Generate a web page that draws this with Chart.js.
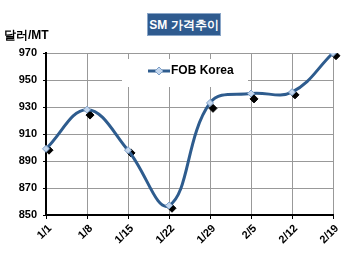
<!DOCTYPE html>
<html>
<head>
<meta charset="utf-8">
<script src="https://cdn.jsdelivr.net/npm/chart.js@4"></script>
<style>
  html, body { margin: 0; padding: 0; background: #fff; }
  #wrap { position: relative; width: 350px; height: 259px; }
  #title {
    position: absolute; left: 147px; top: 13px; width: 74px; height: 23px;
    background: #2f5b8f; color: #fff; font: bold 12px "Liberation Sans", Arial, sans-serif;
    line-height: 23px; text-align: center; box-sizing: border-box; border: 1px solid #8aa6c8;
  }
  #unit {
    position: absolute; left: 4px; top: 27px;
    font: bold 12px "Liberation Sans", Arial, sans-serif; color: #000;
  }
</style>
</head>
<body>
<div id="wrap">
  <canvas id="chart" width="350" height="259"></canvas>
  <div id="title">SM 가격추이</div>
  <div id="unit">달러/MT</div>
</div>
<script>
const labels = ['1/1', '1/8', '1/15', '1/22', '1/29', '2/5', '2/12', '2/19'];
const fobKorea = [899, 928, 898, 857, 933, 940, 941, 970];
const markerPoints = [898, 924, 896, 855, 929, 936, 939, 968];
const yTicks = [850, 870, 890, 910, 930, 950, 970];

const tickFont = { family: '"Liberation Sans", Arial, sans-serif', size: 11, weight: 'bold' };

// black marker shadows sit a few px right of the line markers
const shadowShift = {
  id: 'shadowShift',
  beforeDatasetDraw(chart, args) {
    if (args.index === 1) { chart.ctx.save(); chart.ctx.translate(3, 0); }
  },
  afterDatasetDraw(chart, args) {
    if (args.index === 1) chart.ctx.restore();
  }
};

// legend box drawn inside the plot area
const innerLegend = {
  id: 'innerLegend',
  beforeDatasetsDraw(chart) {
    const ctx = chart.ctx;
    const ds = chart.data.datasets[0];
    ctx.save();
    ctx.fillStyle = '#fff';
    ctx.fillRect(122, 59, 126, 28);
    ctx.strokeStyle = ds.borderColor;
    ctx.lineWidth = 3;
    ctx.beginPath();
    ctx.moveTo(148, 71);
    ctx.lineTo(170, 71);
    ctx.stroke();
    ctx.fillStyle = ds.pointBackgroundColor;
    ctx.strokeStyle = ds.pointBorderColor;
    ctx.lineWidth = 1;
    ctx.beginPath();
    ctx.moveTo(159, 67); ctx.lineTo(163, 71); ctx.lineTo(159, 75); ctx.lineTo(155, 71);
    ctx.closePath();
    ctx.fill(); ctx.stroke();
    ctx.fillStyle = '#000';
    ctx.font = 'bold 12px "Liberation Sans", Arial, sans-serif';
    ctx.textBaseline = 'middle';
    ctx.fillText(ds.label, 171, 71);
    ctx.restore();
  }
};

new Chart(document.getElementById('chart'), {
  type: 'line',
  data: {
    labels: labels,
    datasets: [
      {
        label: 'FOB Korea',
        data: fobKorea,
        borderColor: '#2e5c8e',
        borderWidth: 3,
        tension: 0.4,
        pointStyle: 'rectRot',
        pointRadius: 3.5,
        pointBackgroundColor: '#c4d7ee',
        pointBorderColor: '#7d9fc8',
        pointBorderWidth: 1,
        order: 0
      },
      {
        label: 'marker',
        data: markerPoints,
        showLine: false,
        pointStyle: 'rectRot',
        pointRadius: 4,
        pointBackgroundColor: '#000',
        pointBorderColor: '#000',
        order: 1
      }
    ]
  },
  options: {
    responsive: false,
    animation: false,
    layout: { padding: { left: 0, right: 17, top: 53, bottom: 0 } },
    plugins: {
      legend: { display: false },
      tooltip: { enabled: false }
    },
    scales: {
      x: {
        offset: false,
        grid: { color: '#999', lineWidth: 1, tickLength: 4, tickColor: '#000' },
        border: { color: '#000', width: 2 },
        ticks: { color: '#000', font: tickFont, minRotation: 45, maxRotation: 45, padding: 3, labelOffset: 4 },
        afterFit(scale) { scale.height = 44; }
      },
      y: {
        min: 850,
        max: 970,
        afterBuildTicks(scale) { scale.ticks = yTicks.map(v => ({ value: v })); },
        grid: { color: '#999', lineWidth: 1, tickLength: 3, tickColor: '#000' },
        border: { color: '#000', width: 2 },
        ticks: { color: '#000', font: tickFont, padding: 6 },
        afterFit(scale) { scale.width = 46; }
      }
    }
  },
  plugins: [shadowShift, innerLegend]
});
</script>
</body>
</html>
